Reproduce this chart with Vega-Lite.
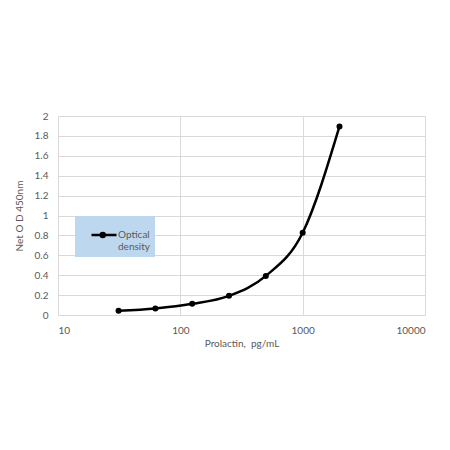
{
  "$schema": "https://vega.github.io/schema/vega-lite/v6.json",
  "width": 367,
  "height": 199,
  "autosize": {"type": "none"},
  "padding": {"left": 58, "top": 116, "right": 25, "bottom": 135},
  "background": "white",
  "data": {
    "values": [
      {"conc": 31.25, "od": 0.043, "series": "Optical density"},
      {"conc": 62.5, "od": 0.066, "series": "Optical density"},
      {"conc": 125, "od": 0.112, "series": "Optical density"},
      {"conc": 250, "od": 0.193, "series": "Optical density"},
      {"conc": 500, "od": 0.393, "series": "Optical density"},
      {"conc": 1000, "od": 0.827, "series": "Optical density"},
      {"conc": 2000, "od": 1.895, "series": "Optical density"}
    ]
  },
  "encoding": {
    "x": {
      "field": "conc", "type": "quantitative",
      "scale": {"type": "log", "domain": [10, 10000], "nice": false},
      "axis": {"values": [10, 100, 1000, 10000], "format": "d", "title": "Prolactin,\u00a0 pg/mL", "titlePadding": 3}
    },
    "y": {
      "field": "od", "type": "quantitative",
      "scale": {"domain": [0, 2], "nice": false},
      "axis": {"values": [0, 0.2, 0.4, 0.6, 0.8, 1, 1.2, 1.4, 1.6, 1.8, 2], "format": "~g", "title": "Net O D 450nm", "titlePadding": 10}
    },
    "color": {
      "field": "series", "type": "nominal",
      "scale": {"range": ["black"]},
      "legend": {
        "orient": "none", "legendX": 17, "legendY": 100,
        "title": null,
        "fillColor": "#bdd7ee",
        "padding": 5,
        "symbolOffset": 10,
        "symbolType": "M-1,0H1M-0.26,0A0.16,0.16 0 1,0 0.06,0A0.16,0.16 0 1,0 -0.26,0Z",
        "symbolSize": 625,
        "symbolStrokeWidth": 2.5,
        "symbolStrokeColor": "black",
        "symbolFillColor": "black",
        "labelExpr": "['Optical', 'density']",
        "labelBaseline": "middle",
        "labelOffset": 0,
        "labelFont": "Lato",
        "labelFontSize": 10,
        "labelColor": "#595959"
      }
    }
  },
  "layer": [
    {"mark": {"type": "line", "interpolate": "monotone", "strokeWidth": 2.5}},
    {"mark": {"type": "point", "filled": true, "size": 36, "opacity": 1}}
  ],
  "config": {
    "view": {"stroke": null},
    "axis": {
      "grid": true, "gridColor": "#d9d9d9", "gridWidth": 1,
      "domain": false, "ticks": false,
      "labelFont": "Lato", "labelFontSize": 10, "labelColor": "#595959", "labelPadding": 10,
      "titleFont": "Lato", "titleFontSize": 10, "titleColor": "#595959", "titleFontWeight": "normal"
    }
  }
}
